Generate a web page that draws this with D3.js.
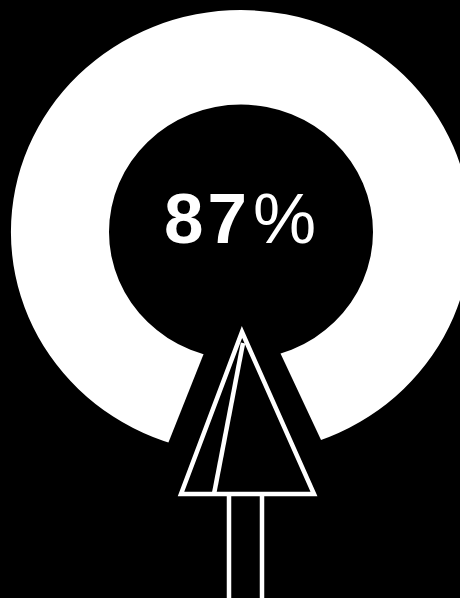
<!DOCTYPE html>
<html>
<head>
<meta charset="utf-8">
<script src="https://cdn.jsdelivr.net/npm/d3@7"></script>
<style>
  html, body { margin: 0; padding: 0; background: #000; }
  svg { display: block; }
</style>
</head>
<body>
<svg id="chart"></svg>
<script>
const shareValues = [87];
const shareTotal = [100];
const percentLabel = ['87', '%'];

const width = 460;
const height = 598;

const svg = d3.select('#chart')
  .attr('width', width)
  .attr('height', height)
  .attr('viewBox', `0 0 ${width} ${height}`);

// percent to angle, the open part of the ring hangs from the bottom
const angle = d3.scaleLinear()
  .domain([0, shareTotal[0]])
  .range([0, 2 * Math.PI]);

// ring is slightly squashed in the reference
const ring = svg.append('g')
  .attr('transform', 'translate(241,232) scale(1,0.965)');

ring.append('path')
  .attr('fill', '#fff')
  .attr('d', d3.arc()
    .innerRadius(132)
    .outerRadius(230)
    .startAngle(0)
    .endAngle(angle(shareTotal[0]))());

// the gap edges meet below the ring centre, so cut it out as a wedge
const gap = angle(shareTotal[0] - shareValues[0]);
const gapMiddle = Math.PI - 0.03;

svg.append('path')
  .attr('transform', 'translate(239,265)')
  .attr('fill', '#000')
  .attr('d', d3.arc()
    .innerRadius(0)
    .outerRadius(300)
    .startAngle(gapMiddle - gap / 2)
    .endAngle(gapMiddle + gap / 2)());

// value
const label = svg.append('text')
  .attr('x', 164)
  .attr('y', 243)
  .attr('fill', '#fff')
  .attr('font-family', '"Liberation Sans", Arial, sans-serif')
  .attr('font-size', 71);

label.append('tspan')
  .attr('font-weight', 'bold')
  .attr('letter-spacing', 4)
  .text(percentLabel[0]);

label.append('tspan')
  .attr('dx', 2)
  .attr('font-weight', 'normal')
  .text(percentLabel[1]);

// arrow under the ring
const outline = d3.line();
const arrow = svg.append('g')
  .attr('fill', 'none')
  .attr('stroke', '#fff')
  .attr('stroke-width', 4.5)
  .attr('stroke-linejoin', 'miter')
  .attr('stroke-miterlimit', 10);

arrow.append('path')
  .attr('d', outline([[242, 332], [314, 494], [181, 494]]) + 'Z');

arrow.append('path')
  .attr('d', outline([[243, 343], [214, 494]]));

arrow.append('path')
  .attr('d', outline([[229, 494], [229, 598]]));

arrow.append('path')
  .attr('d', outline([[262, 494], [262, 598]]));
</script>
</body>
</html>
